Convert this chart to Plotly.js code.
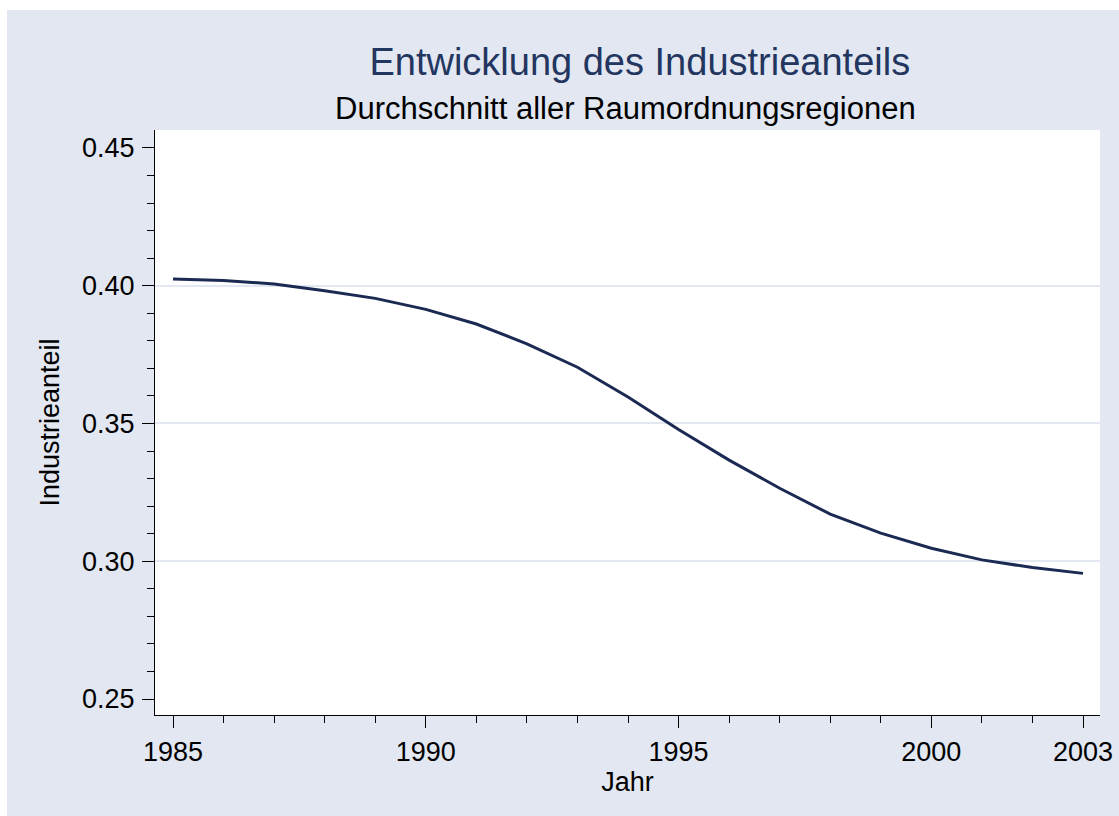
<!DOCTYPE html>
<html>
<head>
<meta charset="utf-8">
<script src="https://cdn.plot.ly/plotly-3.0.1.min.js"></script>
<style>
  html, body { margin: 0; padding: 0; background: #ffffff; }
  #plotArea { position: absolute; left: 7px; top: 10px; width: 1112px; height: 806px; }
</style>
</head>
<body>
<div id="plotArea"></div>
<script>
// Industrieanteil, Durchschnitt aller Raumordnungsregionen
var jahre = [1985, 1986, 1987, 1988, 1989, 1990, 1991, 1992, 1993, 1994,
             1995, 1996, 1997, 1998, 1999, 2000, 2001, 2002, 2003];
var anteil = [0.4024, 0.4019, 0.4006, 0.3982, 0.3954, 0.3914, 0.3861, 0.3789, 0.3704, 0.3596,
              0.3478, 0.3367, 0.3265, 0.3171, 0.3102, 0.3047, 0.3005, 0.2977, 0.2956];

var xTicks = [1985, 1990, 1995, 2000, 2003];
var yTicks = [0.25, 0.30, 0.35, 0.40, 0.45];
var yGrid = [0.30, 0.35, 0.40];

var font = "Liberation Sans, Arial, sans-serif";
var bg = "#e2e7f1";

var trace = {
    x: jahre,
    y: anteil,
    mode: "lines",
    type: "scatter",
    line: {color: "#1b2a53", width: 3},
    hoverinfo: "skip"
};

// empty trace only to carry the grid axis
var gridTrace = {
    x: [jahre[0]],
    y: [anteil[0]],
    yaxis: "y2",
    mode: "lines",
    type: "scatter",
    hoverinfo: "skip",
    showlegend: false
};

var yRange = [0.2442, 0.4565];

var layout = {
    width: 1112,
    height: 806,
    paper_bgcolor: bg,
    plot_bgcolor: "#ffffff",
    showlegend: false,
    margin: {l: 148, r: 19, t: 120, b: 101},
    font: {family: font, color: "#000000"},
    title: {
        text: "Entwicklung des Industrieanteils",
        font: {family: font, size: 38, color: "#22365f"},
        x: 0.513, xref: "paper", xanchor: "center",
        y: 0.9355, yref: "container", yanchor: "middle"
    },
    annotations: [{
        text: "Durchschnitt aller Raumordnungsregionen",
        xref: "paper", yref: "paper",
        x: 0.4984, y: 1.0376, xanchor: "center", yanchor: "middle",
        showarrow: false,
        font: {family: font, size: 31, color: "#000000"}
    }],
    xaxis: {
        range: [1984.644, 2003.336],
        tickvals: xTicks,
        ticks: "outside",
        ticklen: 12,
        tickwidth: 1,
        tickcolor: "#000000",
        ticklabelstandoff: 1,
        minor: {dtick: 1, tick0: 1985, ticks: "outside", ticklen: 7, tickwidth: 1, tickcolor: "#000000", showgrid: false},
        showgrid: false,
        zeroline: false,
        showline: true,
        linecolor: "#000000",
        linewidth: 1,
        tickfont: {family: font, size: 27},
        title: {text: "Jahr", font: {family: font, size: 27}, standoff: 0}
    },
    yaxis: {
        range: yRange,
        tickvals: yTicks,
        tickformat: ".2f",
        ticks: "outside",
        ticklen: 12,
        tickwidth: 1,
        tickcolor: "#000000",
        ticklabelstandoff: 2,
        minor: {dtick: 0.01, tick0: 0.25, ticks: "outside", ticklen: 7, tickwidth: 1, tickcolor: "#000000", showgrid: false},
        showgrid: false,
        zeroline: false,
        showline: true,
        linecolor: "#000000",
        linewidth: 1,
        tickfont: {family: font, size: 27},
        title: {text: "Industrieanteil", font: {family: font, size: 27}, standoff: 14}
    },
    yaxis2: {
        overlaying: "y",
        range: yRange,
        tickvals: yGrid,
        showticklabels: false,
        ticks: "",
        showgrid: true,
        gridcolor: bg,
        gridwidth: 2,
        zeroline: false,
        showline: false
    }
};

Plotly.newPlot("plotArea", [gridTrace, trace], layout, {displayModeBar: false, staticPlot: true});
</script>
</body>
</html>
